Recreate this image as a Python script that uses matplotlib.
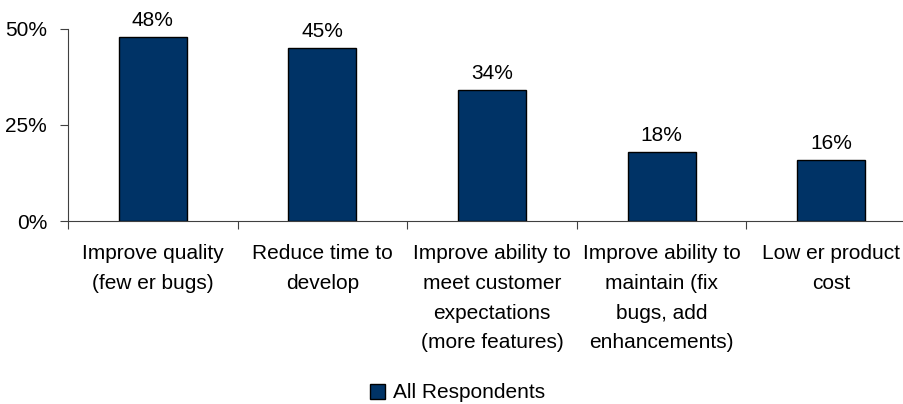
import matplotlib
matplotlib.use("Agg")
import matplotlib.pyplot as plt
from matplotlib.ticker import FuncFormatter
import numpy as np

# 数据
categories = [
    "Improve quality\n(few er bugs)",
    "Reduce time to\ndevelop",
    "Improve ability to\nmeet customer\nexpectations\n(more features)",
    "Improve ability to\nmaintain (fix\nbugs, add\nenhancements)",
    "Low er product\ncost",
]
values = [0.48, 0.45, 0.34, 0.18, 0.16]
series_name = "All Respondents"
y_ticks = [0, 0.25, 0.5]

plt.rcParams['font.family'] = ['Liberation Sans', 'DejaVu Sans']

bar_color = '#003366'
axis_color = '#404040'
fs = 15

fig = plt.figure(figsize=(9.04, 4.04), dpi=100)
ax = fig.add_axes([68 / 904, 1 - 221 / 404, 848 / 904, 192 / 404])

x = np.arange(len(categories))
bars = ax.bar(x, values, width=0.40, color=bar_color, edgecolor='black',
              linewidth=1.0, label=series_name, zorder=3)

# 数值标签
for xi, v in zip(x, values):
    ax.annotate(f"{v * 100:.0f}%", (xi, v), xytext=(0, 5),
                textcoords='offset points', ha='center', va='bottom',
                fontsize=fs, color='black')

ax.set_xlim(-0.5, len(categories) - 0.5)
ax.set_ylim(0, 0.5)
ax.set_yticks(y_ticks)
ax.yaxis.set_major_formatter(FuncFormatter(lambda v, p: f"{v * 100:.0f}%"))

# x 轴：分类标签居中，刻度在分类边界
ax.set_xticks(np.arange(len(categories) + 1) - 0.5)
ax.set_xticklabels([])
ax.set_xticks(x, minor=True)
ax.set_xticklabels(categories, minor=True, fontsize=fs, linespacing=1.72,
                   va='top')
ax.tick_params(axis='x', which='minor', length=0, pad=16.5)
ax.tick_params(axis='x', which='major', length=6, width=0.8,
               color=axis_color, direction='out')
ax.tick_params(axis='y', length=6, width=0.8, color=axis_color,
               labelsize=fs, pad=9)

for side in ['top', 'right']:
    ax.spines[side].set_visible(False)
for side in ['left', 'bottom']:
    ax.spines[side].set_color(axis_color)
    ax.spines[side].set_linewidth(0.8)

fig.legend(handles=[bars], labels=[series_name], loc='center',
           bbox_to_anchor=(458 / 904, 1 - 393 / 404), frameon=False,
           fontsize=fs, handlelength=0.7, handleheight=0.7,
           handletextpad=0.4)

fig.savefig('out.png', dpi=100)
